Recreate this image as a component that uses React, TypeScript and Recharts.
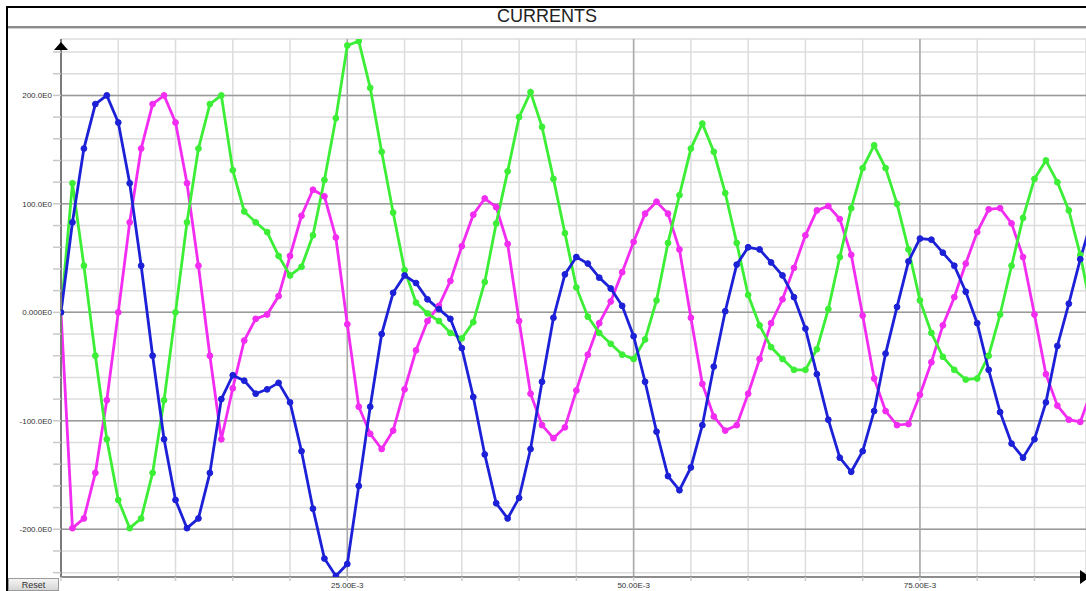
import { LineChart, Line, XAxis, YAxis, CartesianGrid, ReferenceLine } from "recharts";

// time in ms, one sample per ms
const timeMs = [
  0, 1, 2, 3, 4, 5, 6, 7, 8, 9, 10, 11, 12, 13, 14, 15, 16, 17, 18, 19, 20, 21, 22, 23, 24, 25, 26, 27, 28, 29, 30,
  31, 32, 33, 34, 35, 36, 37, 38, 39, 40, 41, 42, 43, 44, 45, 46, 47, 48, 49, 50, 51, 52, 53, 54, 55, 56, 57, 58, 59, 60,
  61, 62, 63, 64, 65, 66, 67, 68, 69, 70, 71, 72, 73, 74, 75, 76, 77, 78, 79, 80, 81, 82, 83, 84, 85, 86, 87, 88, 89, 90,
];

const currentBlue = [
  0, 83, 151, 192, 200, 175, 119, 43, -40, -117, -173, -199, -190, -148, -80, -58, -63, -75, -71, -65, -83,
  -128, -181, -227, -243, -232, -160, -87, -20, 18, 34, 27, 12, 3, -6, -33, -78, -131, -176, -190, -171,
  -126, -64, -5, 35, 51, 45, 32, 22, 6, -22, -64, -110, -151, -164, -143, -104, -50, 1, 44, 60,
  58, 46, 34, 14, -15, -57, -99, -134, -147, -128, -91, -38, 5, 47, 68, 67, 55, 43, 19, -10,
  -53, -92, -121, -134, -117, -83, -31, 8, 49, 85,
];

const currentMagenta = [
  0, -199, -190, -148, -81, 0, 83, 151, 192, 200, 175, 119, 43, -40, -117, -70, -26, -6, -2, 15, 52,
  89, 113, 107, 69, -11, -87, -112, -126, -109, -71, -35, -8, 6, 29, 61, 90, 105, 97, 63, -8,
  -75, -104, -116, -106, -72, -39, -10, 10, 37, 65, 91, 102, 91, 58, -5, -66, -96, -109, -104, -75,
  -43, -10, 12, 41, 71, 94, 98, 86, 53, -3, -61, -91, -104, -103, -76, -46, -12, 14, 45, 74,
  95, 96, 82, 51, -2, -57, -86, -99, -101, -72,
];

const currentGreen = [
  0, 119, 43, -40, -117, -173, -199, -190, -148, -81, 0, 83, 151, 192, 200, 131, 93, 83, 74, 52, 34,
  42, 71, 122, 179, 246, 250, 207, 148, 92, 39, 9, -1, -8, -19, -24, -9, 28, 82, 130, 180,
  203, 171, 123, 73, 23, -4, -19, -29, -39, -43, -25, 11, 64, 108, 151, 174, 148, 110, 64, 16,
  -12, -32, -43, -53, -53, -34, 3, 51, 96, 133, 154, 133, 100, 58, 11, -19, -41, -53, -62, -61,
  -40, -2, 43, 87, 123, 140, 120, 94, 53, 0,
];

const xTicks = [0, 5, 10, 15, 20, 25, 30, 35, 40, 45, 50, 55, 60, 65, 70, 75, 80, 85];
const xMajor = [25, 50, 75];
const xLabels = ["25.00E-3", "50.00E-3", "75.00E-3"];

const yTicks = [
  -240, -220, -200, -180, -160, -140, -120, -100, -80, -60, -40, -20, 0, 20, 40, 60, 80, 100, 120, 140, 160, 180, 200,
  220, 240,
];
const yMajor = [200, 100, 0, -100, -200];
const yLabels = ["200.0E0", "100.0E0", "0.000E0", "-100.0E0", "-200.0E0"];

const data = timeMs.map((t, i) => ({
  t,
  blue: currentBlue[i],
  magenta: currentMagenta[i],
  green: currentGreen[i],
}));

const BLUE = "#1c20d6";
const MAGENTA = "#f22cf0";
const GREEN = "#3cee36";

const fmtX = (v: number) => {
  const i = xMajor.indexOf(v);
  return i >= 0 ? xLabels[i] : "";
};
const fmtY = (v: number) => {
  const i = yMajor.indexOf(v);
  return i >= 0 ? yLabels[i] : "";
};

export default function App() {
  const tickStyle = { fontSize: 8, fill: "#333", fontFamily: "'Liberation Sans', Arial, sans-serif" };
  return (
    <div
      style={{
        position: "relative",
        width: 1086,
        height: 591,
        overflow: "hidden",
        background: "white",
        fontFamily: "'Liberation Sans', Arial, sans-serif",
      }}
    >
      <style>{`body{margin:0}`}</style>
      {/* frame */}
      <div
        style={{
          position: "absolute",
          left: 6,
          top: 6,
          right: -4,
          bottom: -4,
          borderTop: "2px solid #000",
          borderLeft: "2px solid #000",
        }}
      />
      <div
        style={{
          position: "absolute",
          left: 8,
          right: 0,
          top: 7,
          height: 19,
          lineHeight: "19px",
          textAlign: "center",
          fontSize: 18,
          color: "#222",
        }}
      >
        CURRENTS
      </div>
      <div
        style={{
          position: "absolute",
          left: 8,
          right: 0,
          top: 26,
          height: 2,
          background: "#8a8a8a",
          borderBottom: "1px solid #d0d0d0",
        }}
      />
      <div style={{ position: "absolute", left: 0, top: 0 }}>
        <LineChart width={1086} height={591} data={data} margin={{ top: 39, right: 0, bottom: 0, left: 6 }}>
          <CartesianGrid stroke="#dcdcdc" strokeWidth={1.5} horizontal vertical />
          {yMajor.map((v) => (
            <ReferenceLine key={"y" + v} y={v} stroke="#9a9a9a" strokeWidth={1.5} />
          ))}
          {xMajor.map((v) => (
            <ReferenceLine key={"x" + v} x={v} stroke="#a8a8a8" strokeWidth={1.5} />
          ))}
          <XAxis
            dataKey="t"
            type="number"
            domain={[0, 89.5]}
            allowDataOverflow
            ticks={xTicks}
            interval={0}
            tickFormatter={fmtX}
            height={14}
            tickSize={4}
            tickMargin={1}
            tick={tickStyle}
            tickLine={{ stroke: "#cccccc", strokeWidth: 1.5 }}
            axisLine={{ stroke: "#8c8c8c", strokeWidth: 2 }}
          />
          <YAxis
            type="number"
            domain={[-244, 252]}
            allowDataOverflow
            ticks={yTicks}
            interval={0}
            tickFormatter={fmtY}
            width={55}
            tickSize={8}
            tickMargin={1}
            tick={tickStyle}
            tickLine={{ stroke: "#c8c8c8", strokeWidth: 1.5 }}
            axisLine={{ stroke: "#7a7a7a", strokeWidth: 2 }}
          />
          <Line
            dataKey="magenta"
            stroke={MAGENTA}
            strokeWidth={2.8}
            dot={{ r: 2.9, fill: MAGENTA, stroke: MAGENTA, strokeWidth: 1 }}
            isAnimationActive={false}
          />
          <Line
            dataKey="green"
            stroke={GREEN}
            strokeWidth={2.8}
            dot={{ r: 2.9, fill: GREEN, stroke: GREEN, strokeWidth: 1 }}
            isAnimationActive={false}
          />
          <Line
            dataKey="blue"
            stroke={BLUE}
            strokeWidth={2.8}
            dot={{ r: 2.9, fill: BLUE, stroke: BLUE, strokeWidth: 1 }}
            isAnimationActive={false}
          />
        </LineChart>
      </div>
      {/* axis arrows */}
      <svg style={{ position: "absolute", left: 0, top: 0 }} width={1086} height={591}>
        <polygon points="54,50 68,50 61,42" fill="#000" />
        <polygon points="1080,570 1080,584 1090,577" fill="#000" />
      </svg>
      <div
        style={{
          position: "absolute",
          left: 8,
          top: 578,
          width: 51,
          height: 13,
          boxSizing: "border-box",
          border: "1px solid #9a9a9a",
          background: "linear-gradient(#f4f4f4, #d6d6d6)",
          fontSize: 9,
          lineHeight: "12px",
          textAlign: "center",
          color: "#333",
        }}
      >
        Reset
      </div>
    </div>
  );
}
